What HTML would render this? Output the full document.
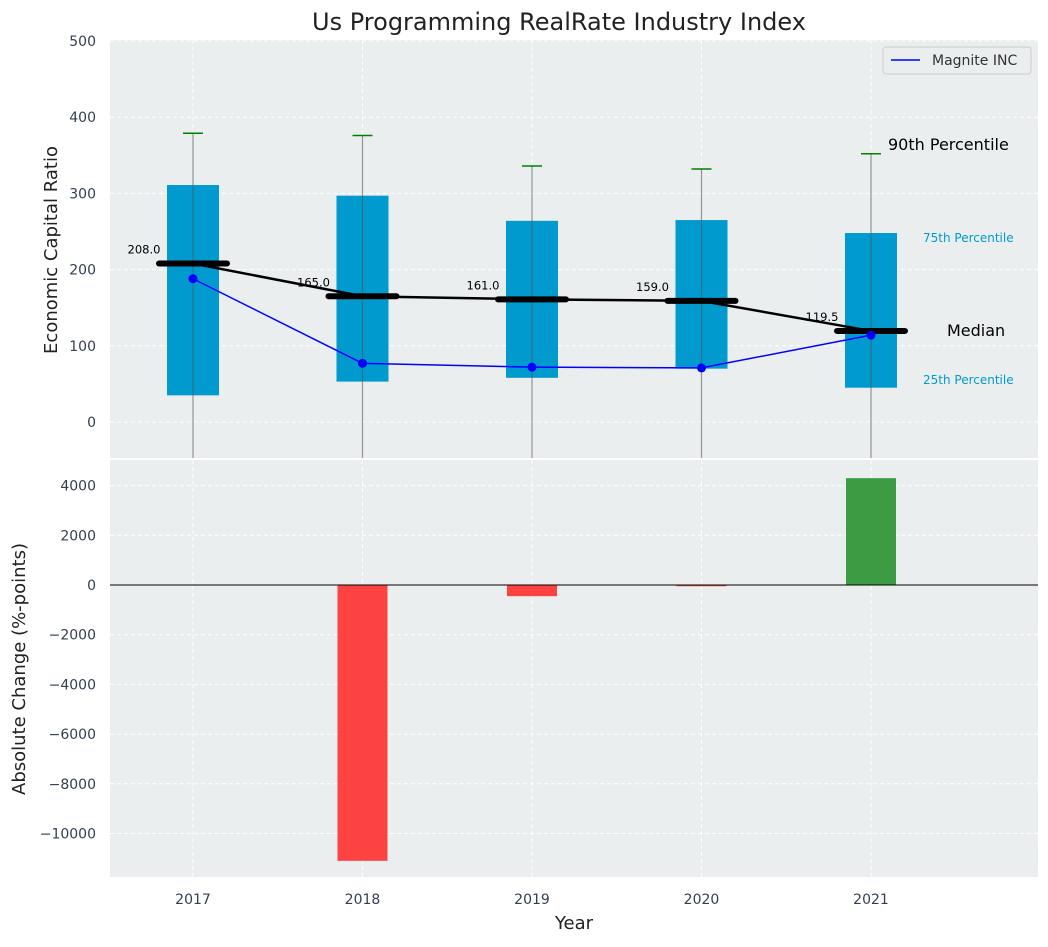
<!DOCTYPE html>
<html><head><meta charset="utf-8"><style>
body{margin:0;background:#fff;font-family:"Liberation Sans","DejaVu Sans",sans-serif}
</style></head><body>
<svg id="c" width="1048" height="942" xmlns="http://www.w3.org/2000/svg" font-family="DejaVu Sans, Liberation Sans, sans-serif"></svg>
<script>
const years=["2017","2018","2019","2020","2021"];
const q1=[35,53,58,70,45];
const q3=[311,297,264,265,248];
const whiskTop=[379,376,336,332,352];
const medians=[208,165,161,159,119.5];
const magnite=[188,77,72,71,114];
const changes=[0,-11100,-450,-50,4300];
const topTicks=[0,100,200,300,400,500];
const botTicks=[-10000,-8000,-6000,-4000,-2000,0,2000,4000];

const svg=document.getElementById('c');
const NS='http://www.w3.org/2000/svg';
function el(t,a,p){const e=document.createElementNS(NS,t);for(const k in a)e.setAttribute(k,a[k]);(p||svg).appendChild(e);return e;}
const X=i=>193+i*169.5;
const YT=v=>422-v*0.762;
const YB=v=>585-v*0.02485;
const L=110,R=1038;

// backgrounds
const bgT=el('rect',{x:L,y:40,width:R-L,height:418,fill:'#eaeeef'});

const bgB=el('rect',{x:L,y:460,width:R-L,height:417,fill:'#eaeeef'});


// grids
years.forEach((y,i)=>{
 el('line',{x1:X(i),x2:X(i),y1:40,y2:458,stroke:'#fff','stroke-dasharray':'4,3','stroke-width':1});
 el('line',{x1:X(i),x2:X(i),y1:460,y2:877,stroke:'#fff','stroke-dasharray':'4,3','stroke-width':1});
 const t=el('text',{x:X(i),y:904,'text-anchor':'middle','font-size':14,fill:'#333f50'});t.textContent=y;
 
});
topTicks.forEach(v=>{
 el('line',{x1:L,x2:R,y1:YT(v),y2:YT(v),stroke:'#fff','stroke-dasharray':'4,3'});
 const t=el('text',{x:96,y:YT(v)+5,'text-anchor':'end','font-size':14,fill:'#333f50'});t.textContent=v;
 
});
botTicks.forEach(v=>{
 el('line',{x1:L,x2:R,y1:YB(v),y2:YB(v),stroke:'#fff','stroke-dasharray':'4,3'});
 const t=el('text',{x:96,y:YB(v)+5,'text-anchor':'end','font-size':14,fill:'#333f50'});t.textContent=v<0?'\u2212'+(-v):v;
 
});

// boxes
const clipT=el('clipPath',{id:'ct'});el('rect',{x:L,y:40,width:R-L,height:418},clipT);
const gT=el('g',{'clip-path':'url(#ct)'});
years.forEach((y,i)=>{
 const b=el('rect',{x:X(i)-26,y:YT(q3[i]),width:52,height:YT(q1[i])-YT(q3[i]),fill:'#009ace'},gT);
 
 const w=el('line',{x1:X(i),x2:X(i),y1:YT(whiskTop[i]),y2:470,stroke:'#555','stroke-opacity':0.6,'stroke-width':1.2},gT);
 
 const c=el('line',{x1:X(i)-10,x2:X(i)+10,y1:YT(whiskTop[i]),y2:YT(whiskTop[i]),stroke:'green','stroke-width':1.5},gT);
 
});
// median line
const mpts=medians.map((m,i)=>X(i)+','+YT(m)).join(' ');
const ml=el('polyline',{points:mpts,fill:'none',stroke:'#000','stroke-width':2.5},gT);

medians.forEach((m,i)=>{
 const s=el('line',{x1:X(i)-34,x2:X(i)+34,y1:YT(m),y2:YT(m),stroke:'#000','stroke-width':6,'stroke-linecap':'round'},gT);
 
 const t=el('text',{x:X(i)-49,y:YT(m)-10,'text-anchor':'middle','font-size':11.5,fill:'#000'});t.textContent=m.toFixed(1);
 
});
const bl=el('polyline',{points:magnite.map((m,i)=>X(i)+','+YT(m)).join(' '),fill:'none',stroke:'blue','stroke-width':1.5},gT);

magnite.forEach((m,i)=>{const p=el('circle',{cx:X(i),cy:YT(m),r:4.5,fill:'blue'},gT);
 });

// annotations
[['90th Percentile',888,150,16,'#000','start'],['75th Percentile',923,242,12,'#009ace','start'],['Median',947,336,16,'#000','start'],['25th Percentile',923,384,12,'#009ace','start']].forEach(a=>{
 const t=el('text',{x:a[1],y:a[2],'font-size':a[3],fill:a[4]});t.textContent=a[0];
 
});

// legend
const lg=el('g',{});
el('rect',{x:883,y:47,width:148,height:27,fill:'#eaeeef',stroke:'#ccc',rx:3},lg);
el('line',{x1:891,x2:920,y1:60,y2:60,stroke:'blue','stroke-width':1.5},lg);
const lt=el('text',{x:932,y:65,'font-size':14,fill:'#333'},lg);lt.textContent='Magnite INC';

// bars
changes.forEach((v,i)=>{
 const y0=YB(Math.max(v,0)),y1=YB(Math.min(v,0));
 const b=el('rect',{x:X(i)-25,y:y0,width:50,height:Math.max(y1-y0,0.5),fill:v>=0?'#2a9131':'#ff2a2a','fill-opacity':v>=0?0.9:0.88});
 
});
el('line',{x1:L,x2:R,y1:YB(0),y2:YB(0),stroke:'#000','stroke-width':1});

// titles
const tt=el('text',{x:559,y:30,'text-anchor':'middle','font-size':24,fill:'#222'});tt.textContent='Us Programming RealRate Industry Index';

const yt=el('text',{x:0,y:0,'text-anchor':'middle','font-size':18,fill:'#222',transform:'translate(57,250) rotate(-90)'});yt.textContent='Economic Capital Ratio';

const yb=el('text',{x:0,y:0,'text-anchor':'middle','font-size':18,fill:'#222',transform:'translate(25,669) rotate(-90)'});yb.textContent='Absolute Change (%-points)';

const xt=el('text',{x:574,y:929,'text-anchor':'middle','font-size':18,fill:'#222'});xt.textContent='Year';

</script>
</body></html>
